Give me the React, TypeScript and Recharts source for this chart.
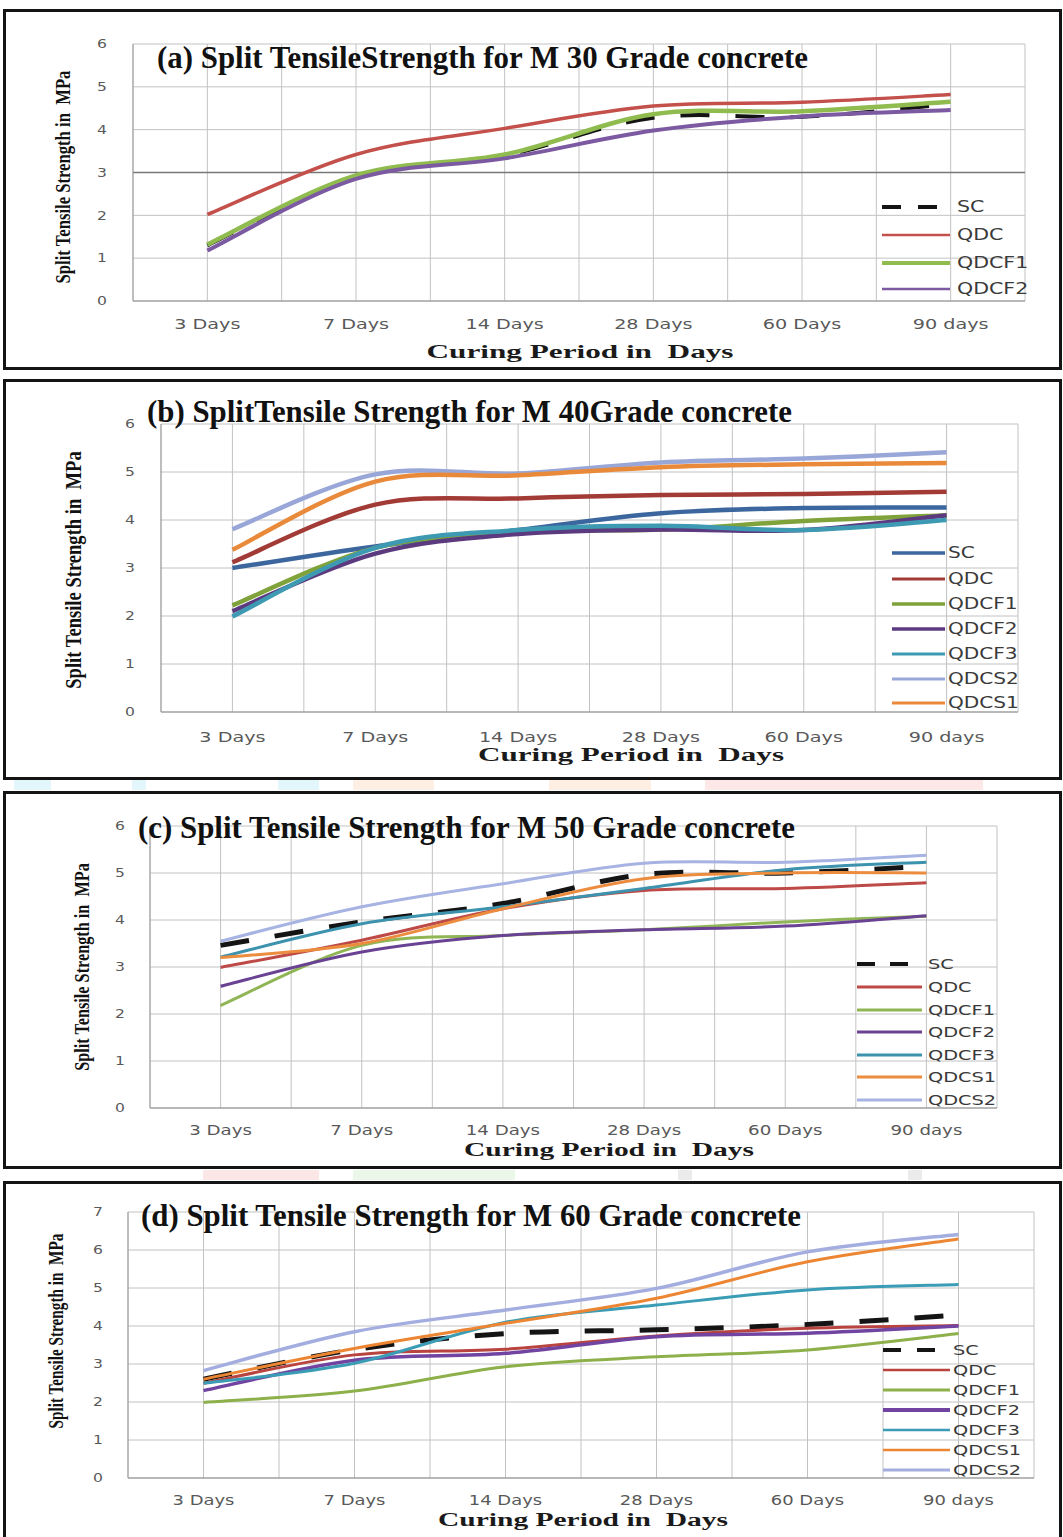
import { LineChart, Line, XAxis, YAxis, CartesianGrid, Legend, ReferenceLine } from 'recharts';

const PAGE_W = 1063;

const curingPeriods = ['3 Days', '7 Days', '14 Days', '28 Days', '60 Days', '90 days'];
// half-step ticks give the grid a line at every category and between categories
const periodTicks = [-0.5, 0, 0.5, 1, 1.5, 2, 2.5, 3, 3.5, 4, 4.5, 5, 5.5];
const strengthTicks6 = [0, 1, 2, 3, 4, 5, 6];
const strengthTicks7 = [0, 1, 2, 3, 4, 5, 6, 7];

// (a) M 30
const m30SC = [1.3, 2.9, 3.4, 4.28, 4.3, 4.6];
const m30QDC = [2.02, 3.42, 4.03, 4.55, 4.64, 4.82];
const m30QDCF1 = [1.32, 2.93, 3.42, 4.36, 4.43, 4.65];
const m30QDCF2 = [1.18, 2.85, 3.33, 3.98, 4.31, 4.46];

// (b) M 40
const m40SC = [3.0, 3.45, 3.79, 4.14, 4.25, 4.26];
const m40QDC = [3.12, 4.32, 4.45, 4.52, 4.54, 4.59];
const m40QDCF1 = [2.22, 3.42, 3.75, 3.8, 3.98, 4.1];
const m40QDCF2 = [2.1, 3.3, 3.71, 3.8, 3.79, 4.1];
const m40QDCF3 = [1.99, 3.42, 3.79, 3.88, 3.79, 4.0];
const m40QDCS2 = [3.81, 4.95, 4.97, 5.2, 5.28, 5.41];
const m40QDCS1 = [3.38, 4.8, 4.93, 5.1, 5.16, 5.19];

// (c) M 50
const m50SC = [3.46, 3.96, 4.35, 4.97, 5.0, 5.14];
const m50QDC = [2.99, 3.57, 4.24, 4.63, 4.67, 4.79];
const m50QDCF1 = [2.18, 3.46, 3.67, 3.79, 3.96, 4.08];
const m50QDCF2 = [2.59, 3.32, 3.67, 3.79, 3.87, 4.09];
const m50QDCF3 = [3.21, 3.92, 4.28, 4.67, 5.07, 5.23];
const m50QDCS1 = [3.2, 3.5, 4.24, 4.88, 5.0, 5.0];
const m50QDCS2 = [3.55, 4.28, 4.77, 5.21, 5.23, 5.38];

// (d) M 60
const m60SC = [2.6, 3.38, 3.8, 3.9, 4.04, 4.29];
const m60QDC = [2.49, 3.24, 3.39, 3.74, 3.94, 4.01];
const m60QDCF1 = [1.99, 2.29, 2.93, 3.19, 3.37, 3.8];
const m60QDCF2 = [2.3, 3.1, 3.28, 3.72, 3.81, 4.0];
const m60QDCF3 = [2.49, 3.02, 4.1, 4.55, 4.95, 5.09];
const m60QDCS1 = [2.6, 3.41, 4.07, 4.73, 5.69, 6.29];
const m60QDCS2 = [2.83, 3.85, 4.42, 4.99, 5.95, 6.41];

type Series = { name: string; values: number[]; color: string; width: number; keyWidth: number; dashed?: boolean };

type Layout = {
  top: number; height: number; openBottom?: boolean;
  plotTop: number; plotBottom: number; plotLeft: number; plotRight: number;
  yTicks: number[]; yLabelX: number; xLabelY: number; tickFont: number; tickScale: number;
  title: string; titleX: number; titleY: number; titleLen: number;
  xTitleX: number; xTitleY: number; xTitleLen: number;
  yTitleX: number; yTitleY: number; yTitleLen: number; yTitleFont: number;
  keyYs: number[]; keyX1: number; keyX2: number; keyTextX: number; keyFont: number; keyScale: number;
  keyDash: string; darkThree?: boolean;
};

const Y_TITLE = 'Split Tensile Strength in\u00a0\u00a0MPa';
// advance width of Y_TITLE in em for a Times-metric bold face
const Y_TITLE_EM = 12.92;

// Excel-style smoothed line: cubic Bezier through each point (Catmull-Rom tangents)
const excelSmooth = (context: any) => {
  let pts: number[][] = [];
  return {
    areaStart() {},
    areaEnd() {},
    lineStart() { pts = []; },
    point(x: number, y: number) { pts.push([x, y]); },
    lineEnd() {
      if (!pts.length) return;
      context.moveTo(pts[0][0], pts[0][1]);
      for (let i = 0; i < pts.length - 1; i++) {
        const p0 = pts[Math.max(i - 1, 0)];
        const p1 = pts[i];
        const p2 = pts[i + 1];
        const p3 = pts[Math.min(i + 2, pts.length - 1)];
        context.bezierCurveTo(
          p1[0] + (p2[0] - p0[0]) / 6, p1[1] + (p2[1] - p0[1]) / 6,
          p2[0] - (p3[0] - p1[0]) / 6, p2[1] - (p3[1] - p1[1]) / 6,
          p2[0], p2[1],
        );
      }
    },
  };
};

const m30Series: Series[] = [
  { name: 'SC', values: m30SC, color: '#141414', width: 4, keyWidth: 4, dashed: true },
  { name: 'QDC', values: m30QDC, color: '#c4504b', width: 3.5, keyWidth: 2.5 },
  { name: 'QDCF1', values: m30QDCF1, color: '#8fbb4f', width: 4.5, keyWidth: 4 },
  { name: 'QDCF2', values: m30QDCF2, color: '#7c5aa2', width: 4, keyWidth: 2.5 },
];

const m40Series: Series[] = [
  { name: 'SC', values: m40SC, color: '#3b679e', width: 4.5, keyWidth: 3.5 },
  { name: 'QDC', values: m40QDC, color: '#a23a36', width: 4.5, keyWidth: 3 },
  { name: 'QDCF1', values: m40QDCF1, color: '#7fa23b', width: 4.5, keyWidth: 3.5 },
  { name: 'QDCF2', values: m40QDCF2, color: '#5c3a7f', width: 4.5, keyWidth: 3.5 },
  { name: 'QDCF3', values: m40QDCF3, color: '#3e9ab3', width: 4.5, keyWidth: 3 },
  { name: 'QDCS2', values: m40QDCS2, color: '#99a7d8', width: 4.5, keyWidth: 3 },
  { name: 'QDCS1', values: m40QDCS1, color: '#e98a3b', width: 4.5, keyWidth: 3 },
];

const m50Series: Series[] = [
  { name: 'SC', values: m50SC, color: '#141414', width: 5, keyWidth: 4, dashed: true },
  { name: 'QDC', values: m50QDC, color: '#bd4a46', width: 3, keyWidth: 3 },
  { name: 'QDCF1', values: m50QDCF1, color: '#8fb555', width: 3, keyWidth: 3 },
  { name: 'QDCF2', values: m50QDCF2, color: '#6a4294', width: 3, keyWidth: 3 },
  { name: 'QDCF3', values: m50QDCF3, color: '#3d92ae', width: 3, keyWidth: 3 },
  { name: 'QDCS1', values: m50QDCS1, color: '#ec8c3e', width: 3, keyWidth: 3 },
  { name: 'QDCS2', values: m50QDCS2, color: '#a7b3e2', width: 3, keyWidth: 3 },
];

const m60Series: Series[] = [
  { name: 'SC', values: m60SC, color: '#141414', width: 5, keyWidth: 4, dashed: true },
  { name: 'QDC', values: m60QDC, color: '#b8433f', width: 3, keyWidth: 2.5 },
  { name: 'QDCF1', values: m60QDCF1, color: '#8db04a', width: 3, keyWidth: 3 },
  { name: 'QDCF2', values: m60QDCF2, color: '#7044a0', width: 3.5, keyWidth: 4 },
  { name: 'QDCF3', values: m60QDCF3, color: '#3b9cb6', width: 3, keyWidth: 2.5 },
  { name: 'QDCS1', values: m60QDCS1, color: '#ec8633', width: 3, keyWidth: 2.5 },
  { name: 'QDCS2', values: m60QDCS2, color: '#a3addf', width: 3.5, keyWidth: 3 },
];

const layoutA: Layout = {
  top: 9, height: 361, plotTop: 44, plotBottom: 301, plotLeft: 133, plotRight: 1025,
  yTicks: strengthTicks6, yLabelX: 102, xLabelY: 324, tickFont: 14, tickScale: 1.37,
  title: '(a) Split TensileStrength for M 30 Grade concrete', titleX: 157, titleY: 68, titleLen: 651,
  xTitleX: 580, xTitleY: 358, xTitleLen: 307,
  yTitleX: 70, yTitleY: 177, yTitleLen: 215, yTitleFont: 22,
  keyYs: [207, 235, 263, 289], keyX1: 882, keyX2: 950, keyTextX: 957, keyFont: 15, keyScale: 1.37,
  keyDash: '19 17', darkThree: true,
};

const layoutB: Layout = {
  top: 379, height: 401, plotTop: 424, plotBottom: 712, plotLeft: 161, plotRight: 1018,
  yTicks: strengthTicks6, yLabelX: 130, xLabelY: 737, tickFont: 14, tickScale: 1.37,
  title: '(b) SplitTensile Strength for M 40Grade concrete', titleX: 147, titleY: 422, titleLen: 645,
  xTitleX: 631, xTitleY: 761, xTitleLen: 306,
  yTitleX: 81, yTitleY: 570, yTitleLen: 240, yTitleFont: 23,
  keyYs: [553, 579, 604, 629, 654, 679, 703], keyX1: 892, keyX2: 945, keyTextX: 948, keyFont: 15, keyScale: 1.34,
  keyDash: '18 15',
};

const layoutC: Layout = {
  top: 791, height: 378, plotTop: 826, plotBottom: 1108, plotLeft: 150, plotRight: 997,
  yTicks: strengthTicks6, yLabelX: 120, xLabelY: 1130, tickFont: 13.5, tickScale: 1.35,
  title: '(c) Split Tensile Strength for M 50 Grade concrete', titleX: 138, titleY: 838, titleLen: 657,
  xTitleX: 609, xTitleY: 1156, xTitleLen: 290,
  yTitleX: 89, yTitleY: 967, yTitleLen: 210, yTitleFont: 21,
  keyYs: [964, 987, 1010, 1032, 1055, 1077, 1100], keyX1: 857, keyX2: 922, keyTextX: 928, keyFont: 14, keyScale: 1.38,
  keyDash: '18 15',
};

const layoutD: Layout = {
  top: 1181, height: 356, openBottom: true, plotTop: 1212, plotBottom: 1478, plotLeft: 128, plotRight: 1034,
  yTicks: strengthTicks7, yLabelX: 98, xLabelY: 1500, tickFont: 13.5, tickScale: 1.33,
  title: '(d) Split Tensile Strength for M 60 Grade concrete', titleX: 141, titleY: 1226, titleLen: 660,
  xTitleX: 583, xTitleY: 1526, xTitleLen: 290,
  yTitleX: 63, yTitleY: 1331, yTitleLen: 197, yTitleFont: 20,
  keyYs: [1350, 1370, 1390, 1410, 1430, 1450, 1470], keyX1: 883, keyX2: 950, keyTextX: 953, keyFont: 14, keyScale: 1.38,
  keyDash: '18 16',
};

// faint coloured smudges that sit between the framed panels
const smudges = [
  { x: 14, y: 780, w: 37, h: 10, c: '#e3f6fb' },
  { x: 132, y: 780, w: 14, h: 10, c: '#e3f6fb' },
  { x: 278, y: 780, w: 41, h: 10, c: '#e3f6fb' },
  { x: 353, y: 780, w: 81, h: 10, c: '#fdefe3' },
  { x: 549, y: 780, w: 102, h: 10, c: '#fdefe3' },
  { x: 705, y: 780, w: 278, h: 10, c: '#fde8e7' },
  { x: 203, y: 1170, w: 116, h: 10, c: '#fce7e7' },
  { x: 353, y: 1170, w: 162, h: 10, c: '#ebf7e8' },
  { x: 678, y: 1170, w: 14, h: 10, c: '#ebebeb' },
  { x: 908, y: 1170, w: 14, h: 10, c: '#ebebeb' },
];

const TICK_COLOR = '#595959';
const Y_AXIS_W = 40;
const X_AXIS_H = 40;

function StrengthPanel({ layout, series }: { layout: Layout; series: Series[] }) {
  const rows = curingPeriods.map((period, i) => {
    const row: Record<string, number | string> = { idx: i, period };
    series.forEach((s) => { row[s.name] = s.values[i]; });
    return row;
  });
  const yMax = layout.yTicks[layout.yTicks.length - 1];
  const margin = {
    top: layout.plotTop - layout.top,
    left: layout.plotLeft - Y_AXIS_W,
    right: PAGE_W - layout.plotRight,
    bottom: layout.top + layout.height - layout.plotBottom - X_AXIS_H,
  };
  const yTitleSqueeze = layout.yTitleLen / (Y_TITLE_EM * layout.yTitleFont);

  const xTick = (props: any) => {
    const { x, y, payload } = props;
    if (!Number.isInteger(payload.value)) return <g />;
    return (
      <g transform={`translate(${x},${y + layout.xLabelY - layout.plotBottom}) scale(${layout.tickScale},1)`}>
        <text x={0} y={0} textAnchor="middle" dominantBaseline="central" fontFamily="DejaVu Sans" fontSize={layout.tickFont} fill={TICK_COLOR}>
          {curingPeriods[payload.value]}
        </text>
      </g>
    );
  };

  const yTick = (props: any) => {
    const { x, y, payload } = props;
    return (
      <g transform={`translate(${x - (layout.plotLeft - layout.yLabelX)},${y}) scale(1.3,1)`}>
        <text x={0} y={0} textAnchor="middle" dominantBaseline="central" fontFamily="DejaVu Sans" fontSize={12} fill={TICK_COLOR}>
          {payload.value}
        </text>
      </g>
    );
  };

  const renderKey = () => (
    <svg width={PAGE_W} height={layout.height} style={{ display: 'block' }}>
      {series.map((s, i) => {
        const ky = layout.keyYs[i] - layout.top;
        return (
          <g key={s.name}>
            <line x1={layout.keyX1} x2={layout.keyX2} y1={ky} y2={ky} stroke={s.color}
              strokeWidth={s.keyWidth} strokeDasharray={s.dashed ? layout.keyDash : undefined} />
            <g transform={`translate(${layout.keyTextX},${ky}) scale(${layout.keyScale},1)`}>
              <text x={0} y={0} dominantBaseline="central" fontFamily="DejaVu Sans" fontSize={layout.keyFont} fill="#3a3a3a">
                {s.name}
              </text>
            </g>
          </g>
        );
      })}
    </svg>
  );

  return (
    <div style={{ position: 'absolute', left: 0, top: layout.top, width: PAGE_W, height: layout.height }}>
      <div
        style={{
          position: 'absolute', left: 3, top: 0, width: 1059, height: layout.height,
          boxSizing: 'border-box', border: '3.5px solid #141414',
          borderBottom: layout.openBottom ? 'none' : '3.5px solid #141414',
        }}
      />
      <LineChart width={PAGE_W} height={layout.height} data={rows} margin={margin}>
        <CartesianGrid stroke="#c2c2c2" strokeWidth={1} />
        {layout.darkThree && <ReferenceLine y={3} stroke="#777" strokeWidth={1.5} />}
        <XAxis dataKey="idx" type="number" domain={[-0.5, 5.5]} ticks={periodTicks} interval={0}
          allowDataOverflow height={X_AXIS_H} tickLine={false} tickSize={0} tickMargin={0}
          axisLine={{ stroke: '#8f8f8f' }} tick={xTick} />
        <YAxis type="number" domain={[0, yMax]} ticks={layout.yTicks} interval={0}
          width={Y_AXIS_W} tickLine={false} tickSize={0} tickMargin={0}
          axisLine={{ stroke: '#9a9a9a' }} tick={yTick} />
        {series.map((s) => (
          <Line key={s.name} dataKey={s.name} name={s.name} type={excelSmooth as any}
            stroke={s.color} strokeWidth={s.width} strokeDasharray={s.dashed ? '29 26' : undefined}
            dot={false} activeDot={false} isAnimationActive={false} />
        ))}
        <Legend layout="vertical" align="center" verticalAlign="middle"
          wrapperStyle={{ left: 0, top: 0, width: PAGE_W, height: layout.height }}
          content={renderKey} />
      </LineChart>
      <svg width={PAGE_W} height={layout.height}
        style={{ position: 'absolute', left: 0, top: 0, pointerEvents: 'none', whiteSpace: 'pre' }}>
        <text x={layout.titleX} y={layout.titleY - layout.top} fontFamily="Liberation Serif" fontWeight="bold"
          fontSize={31} fill="#111" textLength={layout.titleLen} lengthAdjust="spacingAndGlyphs">
          {layout.title}
        </text>
        <text x={layout.xTitleX} y={layout.xTitleY - layout.top} textAnchor="middle" fontFamily="Liberation Serif"
          fontWeight="bold" fontSize={18} fill="#1a1a1a" textLength={layout.xTitleLen} lengthAdjust="spacingAndGlyphs">
          {'Curing Period in\u00a0\u00a0Days'}
        </text>
        <g transform={`translate(${layout.yTitleX},${layout.yTitleY - layout.top}) rotate(-90) scale(${yTitleSqueeze},1)`}>
          <text x={0} y={0} textAnchor="middle" fontFamily="Liberation Serif" fontWeight="bold"
            fontSize={layout.yTitleFont} fill="#111">
            {Y_TITLE}
          </text>
        </g>
      </svg>
    </div>
  );
}

export default function App() {
  return (
    <div style={{ position: 'absolute', left: 0, top: 0, width: PAGE_W, height: 1537, overflow: 'hidden', background: '#fff' }}>
      {smudges.map((m) => (
        <div key={`${m.x}-${m.y}`} style={{ position: 'absolute', left: m.x, top: m.y, width: m.w, height: m.h, background: m.c }} />
      ))}
      <StrengthPanel layout={layoutA} series={m30Series} />
      <StrengthPanel layout={layoutB} series={m40Series} />
      <StrengthPanel layout={layoutC} series={m50Series} />
      <StrengthPanel layout={layoutD} series={m60Series} />
    </div>
  );
}
